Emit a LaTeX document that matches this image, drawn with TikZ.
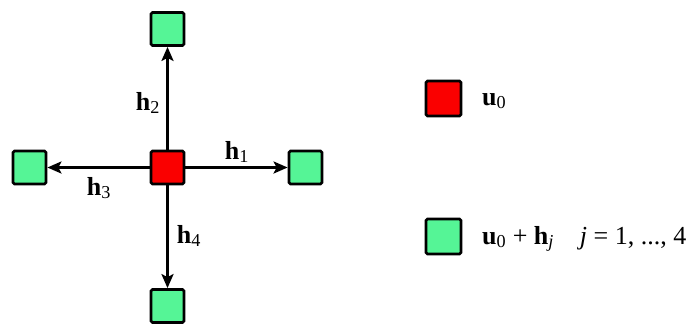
\documentclass[tikz,border=0pt]{standalone}
\usepackage{fontspec}
\setmainfont{Liberation Serif}
\usetikzlibrary{arrows.meta}
\definecolor{pgreen}{RGB}{85,245,150}
\definecolor{pred}{RGB}{250,0,0}
\tikzset{
  cell/.style={draw=black, line width=2.8pt, rounded corners=1.5pt, minimum size=33pt, inner sep=0pt},
  center/.style={cell, fill=pred},
  nbr/.style={cell, fill=pgreen},
  key/.style={minimum size=35pt},
  dir/.style={line width=2.6pt, -{Stealth[length=14pt,width=12pt,inset=3pt]}},
  lbl/.style={font=\fontsize{26}{30}\selectfont, inner sep=0pt},
}
\newcommand{\vb}[2]{\textbf{#1}\textsubscript{#2}}
\begin{document}
\begin{tikzpicture}[x=1pt,y=-1pt]
\useasboundingbox (0,0) rectangle (700,324);
% stencil of the centre point and its four neighbours
\node[center] (u0) at (167.5,167.5) {};
\node[nbr] (e) at (305.5,167.5) {};
\node[nbr] (n) at (167.5,29) {};
\node[nbr] (w) at (29.5,167.5) {};
\node[nbr] (s) at (167.5,306) {};
\draw[dir] (u0) -- (e);
\draw[dir] (u0) -- (n);
\draw[dir] (u0) -- (w);
\draw[dir] (u0) -- (s);
\node[lbl] (h1) at (237,152) {\vb{h}{1}};
\node[lbl] (h2) at (148,103) {\vb{h}{2}};
\node[lbl] (h3) at (99,188) {\vb{h}{3}};
\node[lbl] (h4) at (189,236) {\vb{h}{4}};
% legend
\node[center, key] (k1) at (443.5,98.5) {};
\node[nbr, key] (k2) at (443.5,236.5) {};
\node[lbl, anchor=west] (t1) at (482,101) {\vb{u}{0}};
\node[lbl, anchor=west] (t2) at (482,239) {\vb{u}{0} + \vb{h}{\textit{j}}\quad \textit{j} = 1, ..., 4};
\end{tikzpicture}
\end{document}
